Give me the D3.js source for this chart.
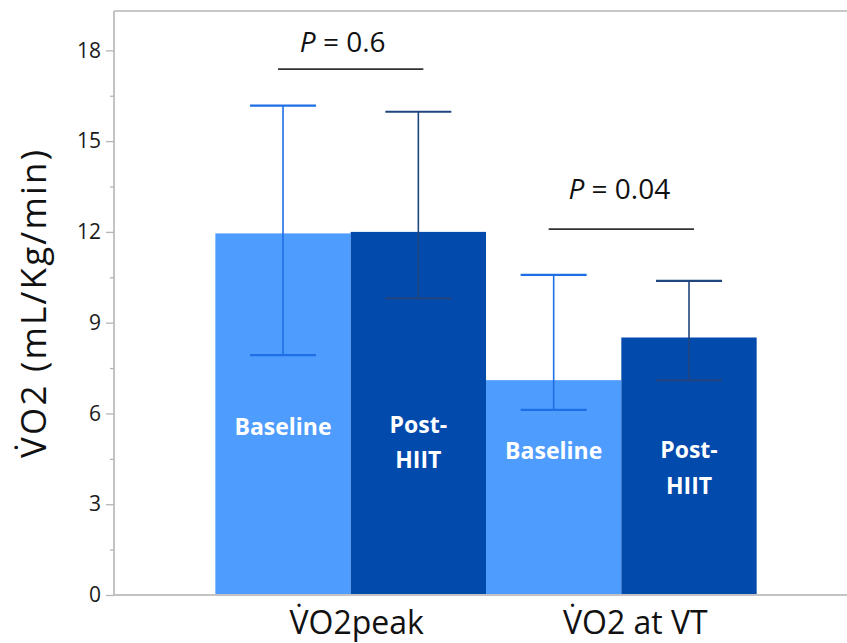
<!DOCTYPE html>
<html>
<head>
<meta charset="utf-8">
<script src="https://cdn.jsdelivr.net/npm/d3@7"></script>
<style>
  html, body { margin: 0; padding: 0; background: #fff; }
  svg { display: block; }
</style>
</head>
<body>
<svg id="chart" width="847" height="643"></svg>
<script>
// ---- data ----
const categories = ["V\u0307O2peak", "V\u0307O2 at VT"];
const groups = ["Baseline", "Post-HIIT"];
const barLabels = [["Baseline"], ["Post-", "HIIT"]];
const baselineValues = [11.95, 7.10];
const postValues = [12.0, 8.51];
const baselineHigh = [16.17, 10.58];
const baselineLow = [7.93, 6.12];
const postHigh = [15.97, 10.38];
const postLow = [9.80, 7.09];
const pLabels = ["0.6", "0.04"];
const pLineLevels = [17.38, 12.09];
const pTextLevels = [17.94, 13.09];
const yTicks = [0, 3, 6, 9, 12, 15, 18];
const yMinorTicks = [1.5, 4.5, 7.5, 10.5, 13.5, 16.5];
const yTitle = "V\u0307O2 (mL/Kg/min)";

// ---- layout ----
const W = 847, H = 643;
const plot = { left: 114, right: 848, top: 11, bottom: 595 };
const fillColors = ["#4f9cff", "#034aad"];
const errColors = ["#1e6fe6", "#21457f"];
const font = "'Open Sans', 'Noto Sans', sans-serif";
const catDx = [6, 14];
const pDx = [-8, -2];
// label baselines (px) per category, per group, per line
const labelBase = [[[435], [433, 468]], [[459], [458, 494]]];

const svg = d3.select("#chart");

const y = d3.scaleLinear().domain([0, 19.3]).range([plot.bottom, plot.top]);
const x0 = d3.scaleBand().domain(categories).range([plot.left, plot.right])
  .paddingInner(0).paddingOuter(0.356).align(0.526);
const x1 = d3.scaleBand().domain(groups).range([0, x0.bandwidth()]).padding(0);

// top frame line
svg.append("line").attr("x1", plot.left).attr("x2", W).attr("y1", plot.top).attr("y2", plot.top)
  .attr("stroke", "#c8c8c8").attr("stroke-width", 2);

const rows = categories.map((c, i) => ({
  cat: c, idx: i,
  items: [
    { g: groups[0], v: baselineValues[i], lo: baselineLow[i], hi: baselineHigh[i], k: 0, ci: i },
    { g: groups[1], v: postValues[i], lo: postLow[i], hi: postHigh[i], k: 1, ci: i }
  ]
}));

const gCat = svg.selectAll("g.cat").data(rows).enter().append("g")
  .attr("class", "cat")
  .attr("transform", d => `translate(${x0(d.cat)},0)`);

gCat.selectAll("rect").data(d => d.items).enter().append("rect")
  .attr("x", d => x1(d.g))
  .attr("width", x1.bandwidth())
  .attr("y", d => y(d.v))
  .attr("height", d => y(0) - y(d.v))
  .attr("fill", d => fillColors[d.k]);

// error bars
const capW = 66;
const eb = gCat.selectAll("g.err").data(d => d.items).enter().append("g")
  .attr("class", "err")
  .attr("transform", d => `translate(${x1(d.g) + x1.bandwidth() / 2},0)`);
eb.append("line").attr("x1", 0).attr("x2", 0)
  .attr("y1", d => y(d.hi)).attr("y2", d => y(d.lo))
  .attr("stroke", d => errColors[d.k]).attr("stroke-width", 1.6);
eb.append("line").attr("x1", -capW / 2).attr("x2", capW / 2)
  .attr("y1", d => y(d.hi)).attr("y2", d => y(d.hi))
  .attr("stroke", d => errColors[d.k]).attr("stroke-width", 2.2);
eb.append("line").attr("x1", -capW / 2).attr("x2", capW / 2)
  .attr("y1", d => y(d.lo)).attr("y2", d => y(d.lo))
  .attr("stroke", d => errColors[d.k]).attr("stroke-width", 2.2);

// bar labels
gCat.selectAll("text.blab").data(d => d.items).enter().append("text")
  .attr("class", "blab")
  .attr("text-anchor", "middle")
  .attr("fill", "#fff")
  .style("font-family", font)
  .style("font-weight", "bold")
  .style("font-size", "23px")
  .each(function (d) {
    const t = d3.select(this);
    barLabels[d.k].forEach((ln, j) => {
      t.append("tspan").attr("x", x1(d.g) + x1.bandwidth() / 2)
        .attr("y", labelBase[d.ci][d.k][j]).text(ln);
    });
  });

// significance lines
rows.forEach((r, i) => {
  const cx = x0(r.cat);
  const xa = cx + x1.bandwidth() / 2 - 5, xb = cx + x1.bandwidth() * 1.5 + 5;
  svg.append("line").attr("x1", xa).attr("x2", xb)
    .attr("y1", y(pLineLevels[i])).attr("y2", y(pLineLevels[i]))
    .attr("stroke", "#333").attr("stroke-width", 1.6);
  const t = svg.append("text")
    .attr("x", cx + x0.bandwidth() / 2 + pDx[i])
    .attr("y", y(pTextLevels[i]))
    .attr("text-anchor", "middle")
    .attr("fill", "#111")
    .style("font-family", font)
    .style("font-size", "28px");
  t.append("tspan").style("font-style", "italic").text("P");
  t.append("tspan").text(" = " + pLabels[i]);
});

// y axis
const yAxis = d3.axisLeft(y).tickValues(yTicks).tickSize(8).tickPadding(5).tickFormat(d3.format("d"));
const ga = svg.append("g").attr("transform", `translate(${plot.left},0)`).call(yAxis);
ga.select(".domain").attr("stroke", "#c3c3c3").attr("stroke-width", 2)
  .attr("d", `M0,${plot.top}V${plot.bottom}`);
ga.selectAll(".tick line").attr("stroke", "#b5b5b5").attr("stroke-width", 1.3);
ga.selectAll(".tick text").attr("fill", "#1a1a1a").style("font-family", font).style("font-size", "21px");
const gm = svg.append("g").attr("transform", `translate(${plot.left},0)`)
  .call(d3.axisLeft(y).tickValues(yMinorTicks).tickSize(4).tickFormat(""));
gm.select(".domain").remove();
gm.selectAll(".tick line").attr("stroke", "#b5b5b5").attr("stroke-width", 1.3);

// x axis
const xAxis = d3.axisBottom(x0).tickSize(0);
const gx = svg.append("g").attr("transform", `translate(0,${plot.bottom})`).call(xAxis);
gx.select(".domain").attr("stroke", "#c3c3c3").attr("stroke-width", 2)
  .attr("d", `M${plot.left},0H${W}`);
gx.selectAll(".tick text").attr("fill", "#111").style("font-family", font).style("font-size", "32px")
  .attr("y", 39).attr("dy", 0)
  .attr("dx", (d, i) => catDx[i]);

// y title
svg.append("text")
  .attr("transform", `translate(46,304) rotate(-90)`)
  .attr("text-anchor", "middle")
  .attr("fill", "#111")
  .style("font-family", font)
  .style("font-size", "35px")
  .attr("textLength", 308)
  .attr("lengthAdjust", "spacing")
  .text(yTitle);
</script>
</body>
</html>
